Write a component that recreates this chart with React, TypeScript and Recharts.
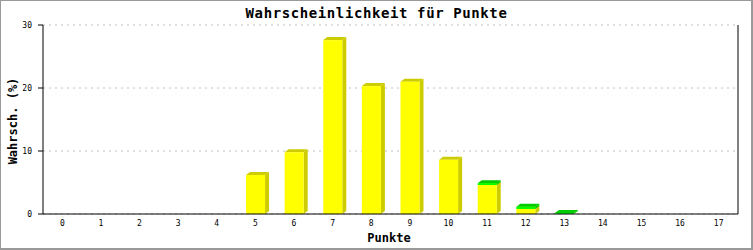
import { BarChart, Bar, XAxis, YAxis, CartesianGrid } from 'recharts';

// Punkte 0..17
const punkte = ['0', '1', '2', '3', '4', '5', '6', '7', '8', '9', '10', '11', '12', '13', '14', '15', '16', '17'];
const gelb = [0, 0, 0, 0, 0, 6.2, 9.8, 27.6, 20.3, 21.0, 8.6, 4.6, 0.8, 0, 0, 0, 0, 0];
const gruen = [0, 0, 0, 0, 0, 0, 0, 0, 0, 0, 0, 0.3, 0.35, 0.15, 0, 0, 0, 0];
const yTicks = [0, 10, 20, 30];

const data = punkte.map((p, i) => ({ p, gelb: gelb[i], gruen: gruen[i] }));

const mono = '"DejaVu Sans Mono", "Liberation Mono", monospace';

// 3D bar: front face, dark top and right side
function bar3d(front: string, dark: string) {
  return (props: any) => {
    const { x, y, width, height } = props;
    if (!height || height <= 0) return <g />;
    const dx = 4;
    const dy = 3;
    return (
      <g>
        <polygon
          points={`${x + width},${y} ${x + width + dx},${y - dy} ${x + width + dx},${y + height - dy} ${x + width},${y + height}`}
          fill={dark}
        />
        <polygon
          points={`${x},${y} ${x + dx},${y - dy} ${x + width + dx},${y - dy} ${x + width},${y}`}
          fill={dark}
        />
        <rect x={x} y={y} width={width} height={height} fill={front} />
      </g>
    );
  };
}

export default function App() {
  return (
    <div style={{ position: 'fixed', left: 0, top: 0, width: 753, height: 250, background: '#fff' }}>
      <BarChart width={753} height={250} data={data} margin={{ top: 25, right: 0, bottom: 0, left: 0 }}>
        <CartesianGrid vertical={false} stroke="#c0c0c0" strokeDasharray="2 4" />
        <XAxis
          dataKey="p"
          height={36}
          tickLine={false}
          tickSize={0}
          tickMargin={6}
          axisLine={{ stroke: '#000' }}
          tick={{ fill: '#000', fontSize: 8, fontFamily: mono }}
          interval={0}
        />
        <YAxis
          width={43}
          domain={[0, 30]}
          ticks={yTicks}
          tickSize={5}
          tickMargin={6}
          axisLine={{ stroke: '#000' }}
          tickLine={{ stroke: '#000' }}
          tick={{ fill: '#000', fontSize: 8, fontFamily: mono }}
        />
        <YAxis
          yAxisId="r"
          orientation="right"
          width={15}
          domain={[0, 30]}
          tick={false}
          tickLine={false}
          axisLine={{ stroke: '#000' }}
        />
        <Bar dataKey="gelb" stackId="a" barSize={19} fill="#ffff00" shape={bar3d('#ffff00', '#cccc00')} isAnimationActive={false} />
        <Bar dataKey="gruen" stackId="a" barSize={19} fill="#00ff00" shape={bar3d('#00ff00', '#00cc00')} isAnimationActive={false} />
      </BarChart>
      <div
        style={{
          position: 'absolute', left: 0, top: 5, width: 753, textAlign: 'center',
          fontFamily: mono, fontWeight: 'bold', fontSize: 14, letterSpacing: 0.6, lineHeight: '16px',
        }}
      >
        Wahrscheinlichkeit für Punkte
      </div>
      <div
        style={{
          position: 'absolute', left: 13, top: 121, transform: 'translate(-50%, -50%) rotate(-90deg)',
          fontFamily: mono, fontWeight: 'bold', fontSize: 12, whiteSpace: 'nowrap', lineHeight: '14px',
        }}
      >
        Wahrsch. (%)
      </div>
      <div
        style={{
          position: 'absolute', left: 389, top: 238, transform: 'translate(-50%, -50%)',
          fontFamily: mono, fontWeight: 'bold', fontSize: 12, whiteSpace: 'nowrap', lineHeight: '14px',
        }}
      >
        Punkte
      </div>
      <div
        style={{
          position: 'absolute', left: 0, top: 0, width: 753, height: 250, boxSizing: 'border-box',
          borderStyle: 'solid', borderColor: '#999', borderWidth: '1px 2px 2px 1px', pointerEvents: 'none',
        }}
      />
    </div>
  );
}
